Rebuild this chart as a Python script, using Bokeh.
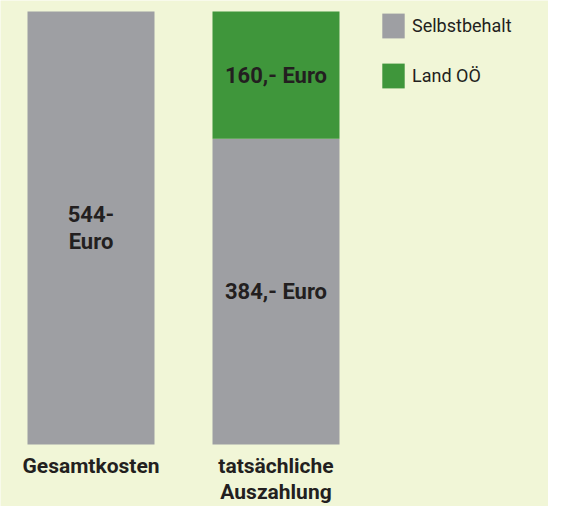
from bokeh.plotting import figure
from bokeh.models import Range1d, ColumnDataSource
from bokeh.core.properties import value
from bokeh.embed import file_html
from bokeh.resources import INLINE

# ---- data ----
categories = ["Gesamtkosten", "tatsächliche\nAuszahlung"]
series_names = ["Selbstbehalt", "Land OÖ"]
selbstbehalt = [544, 384]
land_ooe = [0, 160]
labels_selbst = ["544-\nEuro", "384,- Euro"]
labels_land = ["", "160,- Euro"]

# ---- style ----
BG = "#f1f6d7"
GRAY = "#9e9fa3"
GREEN = "#3f963b"
TXT = "#231f20"
FONT = "Roboto"

W, H = 548, 506
p = figure(width=W, height=H, output_backend="svg", toolbar_location=None,
           x_range=Range1d(-0.4892, 2.4730), y_range=Range1d(-77.9, 557.8),
           min_border=0)
p.xaxis.visible = False
p.yaxis.visible = False
p.grid.visible = False
p.outline_line_color = None
p.background_fill_color = BG
p.border_fill_color = BG

xs = list(range(len(categories)))
src = ColumnDataSource(dict(x=xs, sb=selbstbehalt, land=land_ooe))
p.vbar_stack(["sb", "land"], x="x", width=0.6865, source=src,
             color=[GRAY, GREEN], line_color=None, legend_label=series_names)

# segment labels at segment centres
lab_src = ColumnDataSource(dict(
    x=xs + xs,
    y=[s / 2 for s in selbstbehalt] + [s + l / 2 for s, l in zip(selbstbehalt, land_ooe)],
    t=labels_selbst + labels_land,
))
p.text(x="x", y="y", text="t", source=lab_src, text_align="center",
       text_baseline="middle", text_font=value(FONT), text_font_style="bold",
       text_font_size="22px", text_color=TXT, text_line_height=1.1)

# category labels
cat_src = ColumnDataSource(dict(x=xs, y=[0] * len(xs), t=categories))
p.text(x="x", y="y", text="t", source=cat_src, text_align="center",
       text_baseline="top", y_offset=10, text_font=value(FONT),
       text_font_style="bold", text_font_size="21px", text_color=TXT,
       text_line_height=1.05)

lg = p.legend[0]
lg.location = (379, 415)
lg.glyph_width = 28
lg.glyph_height = 31
lg.spacing = 19
lg.padding = 0
lg.margin = 0
lg.border_line_color = None
lg.background_fill_alpha = 0
lg.label_standoff = 5
lg.label_text_font = FONT
lg.label_text_font_size = "18px"
lg.label_text_color = TXT

open("out.html", "w").write(file_html(p, INLINE))
